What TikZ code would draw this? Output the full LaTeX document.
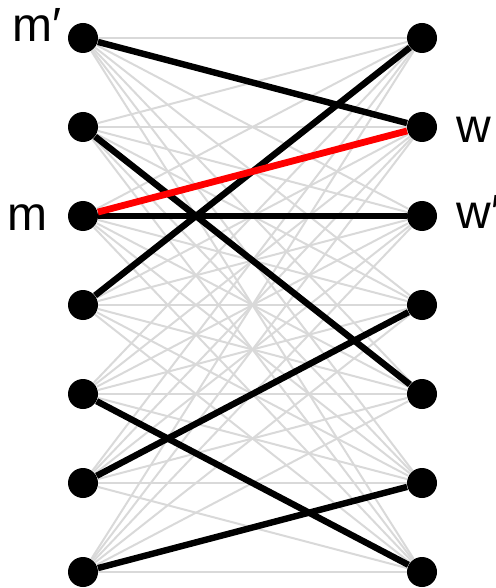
\documentclass[tikz,border=0pt]{standalone}
\usepackage{fontspec}
\setmainfont{Liberation Sans}
\definecolor{edgegray}{RGB}{217,217,217}
\definecolor{matchred}{RGB}{255,0,0}
\usetikzlibrary{positioning}

\tikzset{
  vertex/.style={circle,fill=black,inner sep=0pt,minimum size=15pt},
  alledge/.style={edgegray,line width=1pt},
  matchedge/.style={black,line width=3.2pt},
  blockedge/.style={matchred,line width=3.4pt},
  vlabel/.style={inner sep=0pt,font=\fontsize{24}{28}\selectfont}
}

\begin{document}
\begin{tikzpicture}[x=0.5pt,y=-0.5pt]
        \useasboundingbox (0,0) rectangle (496,588);
        % two sides of the graph
        \foreach \i [evaluate=\i as \yy using 38+(\i-1)*89] in {1,...,7} {
          \node[vertex] (l\i) at (83,\yy) {};
          \node[vertex] (r\i) at (422,\yy) {};
        }
        % every possible pair
        \foreach \i in {1,...,7}
          \foreach \j in {1,...,7}
            \draw[alledge] (l\i) -- (r\j);
        % the matching
        \draw[matchedge] (l1) -- (r2);
        \draw[matchedge] (l2) -- (r5);
        \draw[matchedge] (l3) -- (r3);
        \draw[matchedge] (l4) -- (r1);
        \draw[matchedge] (l5) -- (r7);
        \draw[matchedge] (l6) -- (r4);
        \draw[matchedge] (l7) -- (r6);
        % blocking pair
        \draw[blockedge] (l3) -- (r2);
        \node[vlabel,anchor=base west] (mp) at (12,42) {m′};
        \node[vlabel,anchor=base east] (m) at (48,230) {m};
        \node[vlabel,anchor=base west] (w) at (456,143) {w};
        \node[vlabel,anchor=base west] (wp) at (456,228) {w′};
      \end{tikzpicture}
\end{document}
